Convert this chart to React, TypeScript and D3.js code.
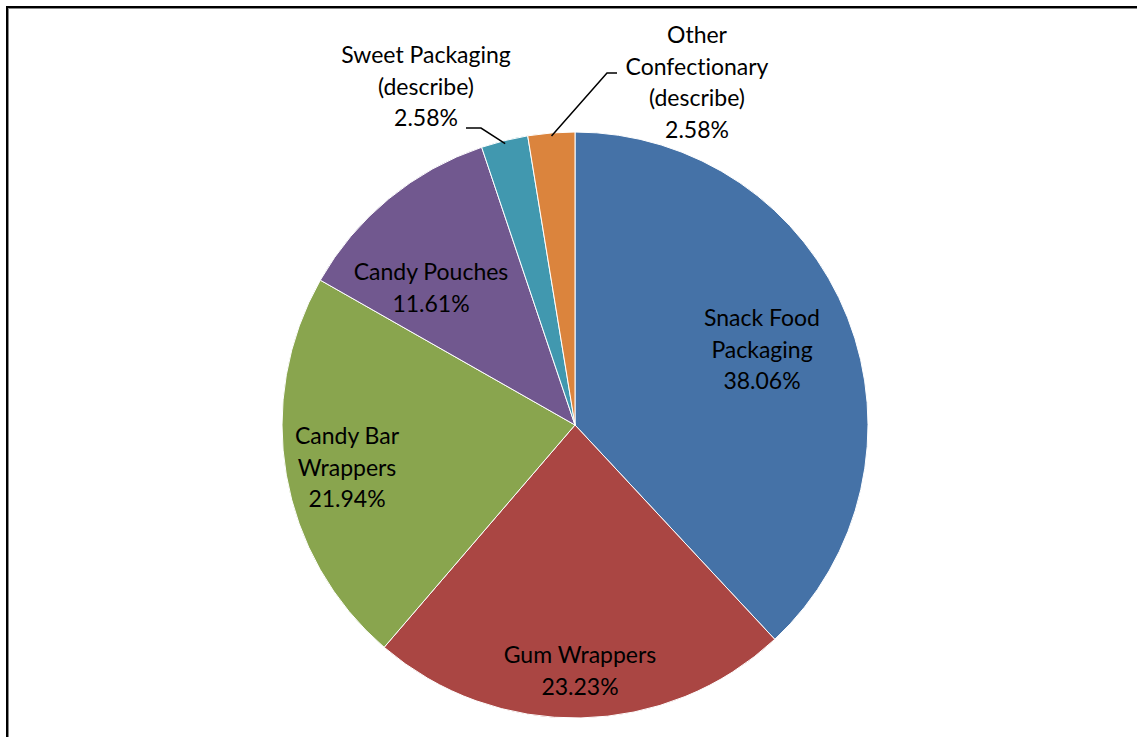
import React from "react";
import * as d3 from "d3";

const categories = [
  "Snack Food Packaging",
  "Gum Wrappers",
  "Candy Bar Wrappers",
  "Candy Pouches",
  "Sweet Packaging (describe)",
  "Other Confectionary (describe)",
];
const values = [38.06, 23.23, 21.94, 11.61, 2.58, 2.58];
const labelLines = [
  ["Snack Food", "Packaging", "38.06%"],
  ["Gum Wrappers", "23.23%"],
  ["Candy Bar", "Wrappers", "21.94%"],
  ["Candy Pouches", "11.61%"],
  ["Sweet Packaging", "(describe)", "2.58%"],
  ["Other", "Confectionary", "(describe)", "2.58%"],
];
const colors = ["#4572A7", "#AA4643", "#89A54E", "#71588F", "#4198AF", "#DB843D"];

// layout: label anchor (x center, first baseline) and leader elbows for outside labels
const labelLayout = [
  { x: 762, y: 326 },
  { x: 580, y: 663 },
  { x: 347, y: 444 },
  { x: 431, y: 280 },
  { x: 426, y: 63 },
  { x: 697, y: 43 },
];
const leaders: (null | { elbow: [number, number]; end: [number, number] })[] = [
  null,
  null,
  null,
  null,
  { elbow: [481, 128], end: [466, 128] },
  { elbow: [607, 73], end: [617, 73] },
];

const W = 1137;
const H = 737;
const cx = 575;
const cy = 425;
const R = 293;
const LINE = 31.5;

export default function App() {
  const pie = d3.pie<number>().sort(null).startAngle(0).endAngle(2 * Math.PI);
  const arcs = pie(values);
  const arc = d3.arc<d3.PieArcDatum<number>>().innerRadius(0).outerRadius(R);

  return (
    <svg
      width={W}
      height={H}
      style={{ position: "fixed", left: 0, top: 0, background: "#fff", fontVariantLigatures: "none" }}
      fontFamily="Lato, 'Open Sans', sans-serif"
    >
      <rect x={0} y={0} width={W} height={H} fill="#fff" />
      <rect x={7} y={7} width={W + 50} height={H + 50} fill="none" stroke="#000" strokeWidth={2} />
      <rect x={8.5} y={8.5} width={W + 50} height={H + 50} fill="none" stroke="#888" strokeWidth={1} />
      <g transform={`translate(${cx},${cy})`}>
        {arcs.map((a, i) => (
          <path key={categories[i]} d={arc(a) || ""} fill={colors[i]} stroke="#fff" strokeWidth={1} />
        ))}
      </g>
      {arcs.map((a, i) => {
        const L = leaders[i];
        if (!L) return null;
        const mid = (a.startAngle + a.endAngle) / 2;
        const r = R - 3;
        const px = cx + r * Math.sin(mid);
        const py = cy - r * Math.cos(mid);
        return (
          <polyline
            key={"l" + i}
            points={`${px},${py} ${L.elbow[0]},${L.elbow[1]} ${L.end[0]},${L.end[1]}`}
            fill="none"
            stroke="#000"
            strokeWidth={1.5}
          />
        );
      })}
      {labelLines.map((lines, i) => (
        <text
          key={"t" + i}
          textAnchor="middle"
          fontSize={23}
          fill="#000"
          style={{ fontVariantLigatures: "none", fontFeatureSettings: "'liga' 0" }}
        >
          {lines.map((ln, j) => (
            <tspan key={j} x={labelLayout[i].x} y={labelLayout[i].y + j * LINE}>
              {ln}
            </tspan>
          ))}
        </text>
      ))}
    </svg>
  );
}
